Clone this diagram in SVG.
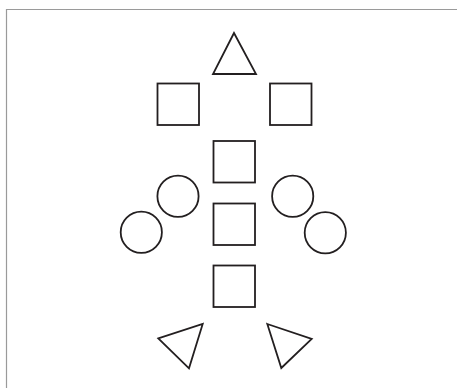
<svg xmlns="http://www.w3.org/2000/svg" width="457" height="388" viewBox="0 0 457 388">
<style>
.s{fill:none;stroke:#231f20;stroke-width:1.8;stroke-linejoin:miter}
.frame{fill:none;stroke:#9a9a9a;stroke-width:1.2}
</style>
<rect width="457" height="388" fill="#fff"/>
<path class="frame" d="M6.5 388 V9.5 H457"/>
<g id="tri-top"><polygon class="s" points="234,33 213,74 256,74"/></g>
<g id="sq-top-left"><rect class="s" x="157.5" y="83.5" width="41.5" height="41.5"/></g>
<g id="sq-top-right"><rect class="s" x="270" y="83.5" width="41.5" height="41.5"/></g>
<g id="sq-mid-1"><rect class="s" x="213.5" y="141" width="41.5" height="41.5"/></g>
<g id="sq-mid-2"><rect class="s" x="213.5" y="203.5" width="41.5" height="41.5"/></g>
<g id="sq-bottom"><rect class="s" x="213.5" y="265.5" width="41.5" height="41.5"/></g>
<g id="circ-left-upper"><circle class="s" cx="178" cy="196.3" r="20.6"/></g>
<g id="circ-left-lower"><circle class="s" cx="141.3" cy="232.3" r="20.6"/></g>
<g id="circ-right-upper"><circle class="s" cx="292.7" cy="196.3" r="20.6"/></g>
<g id="circ-right-lower"><circle class="s" cx="325.3" cy="232.7" r="20.6"/></g>
<g id="tri-bottom-left"><polygon class="s" points="158.3,338.3 202.7,324 189,368.3"/></g>
<g id="tri-bottom-right"><polygon class="s" points="267.3,324 311.7,339 281.3,368"/></g>
</svg>
